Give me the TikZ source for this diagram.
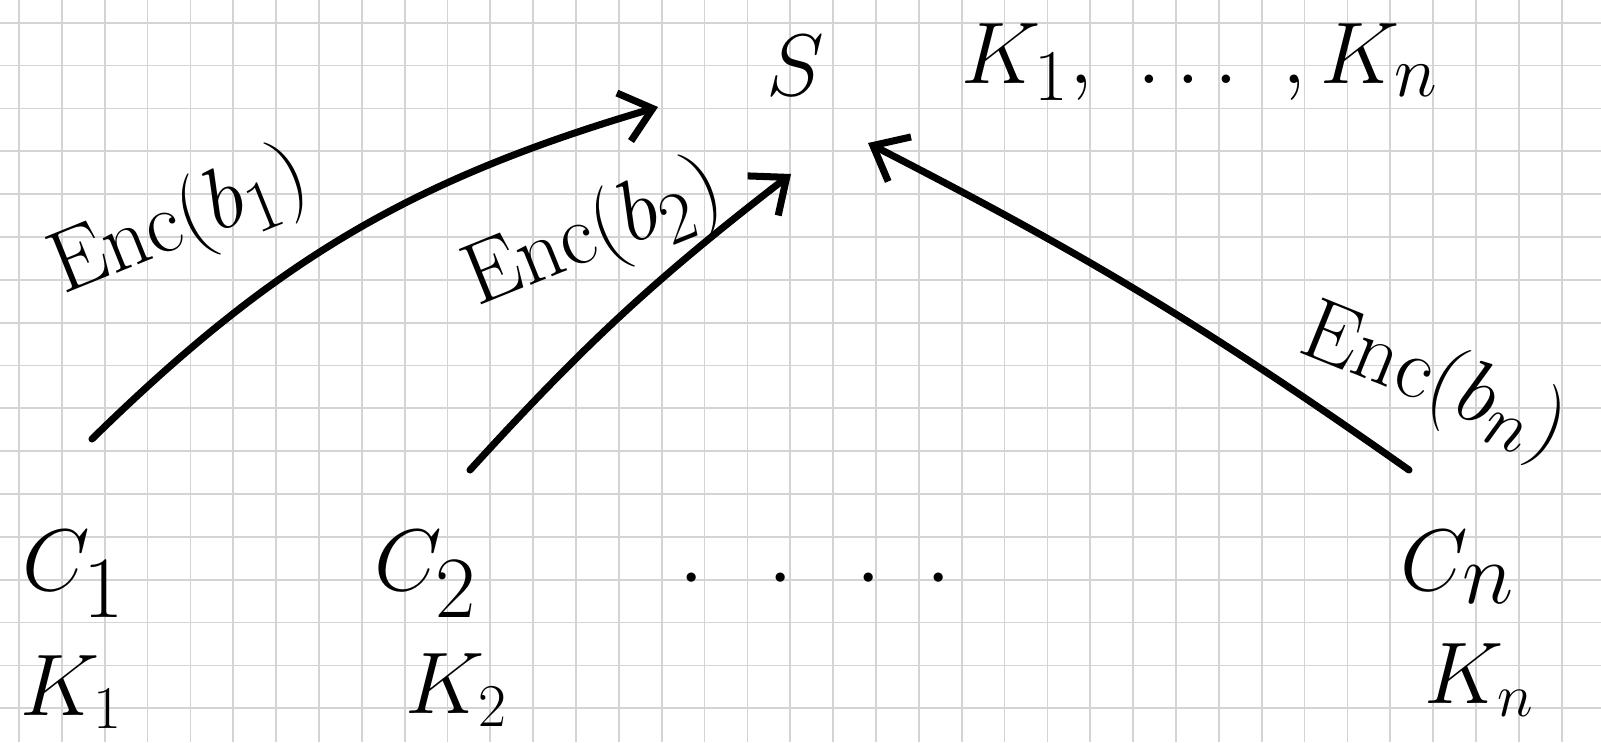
\documentclass[tikz,border=0pt]{standalone}
\usepackage{amsmath}
\usetikzlibrary{arrows.meta,positioning}
\definecolor{gridgray}{RGB}{212,212,212}

\begin{document}
\begin{tikzpicture}[x=0.01cm,y=-0.01cm,
        gridline/.style={draw=gridgray,line width=0.5pt},
        party/.style={font=\fontsize{36}{40}\selectfont,inner sep=0pt},
        keylbl/.style={font=\fontsize{24}{28}\selectfont,inner sep=0pt},
        enc/.style={font=\fontsize{30}{34}\selectfont,inner sep=0pt},
        a/.style={-{Straight Barb[length=3mm,width=5mm]},line width=2pt,line cap=round}
      ]
        \useasboundingbox[fill=white] (0,0) rectangle (1601,742);
        % squared paper
        \foreach \i in {0,...,36}
          \draw[gridline] ({19+42.85*\i},0) -- ({19+42.85*\i},742);
        \foreach \j in {0,...,16}
          \draw[gridline] (0,{22.7+42.85*\j}) -- (1601,{22.7+42.85*\j});

        \node[party] (s) at (795,66) {$S$};
        \node[keylbl,font=\fontsize{28}{32}\selectfont] (kall) at (1200,62) {$K_1,\ \ldots\ ,K_n$};

        \node[party] (c1) at (74,574) {$C_1$};
        \node[party] (c2) at (426,574) {$C_2$};
        \node[party] (cn) at (1458,567) {$C_n$};
        \node[party,font=\fontsize{26}{30}\selectfont] (dots) at (815,580)
          {$\cdot\hspace{0.45cm}\cdot\hspace{0.45cm}\cdot\hspace{0.45cm}\cdot$};

        \node[keylbl] (k1) at (72,692) {$K_1$};
        \node[keylbl] (k2) at (457,690) {$K_2$};
        \node[keylbl] (kn) at (1480,680) {$K_n$};

        \coordinate (c1out) at (92,439);
        \coordinate (c2out) at (470,470);
        \coordinate (cnout) at (1409,470);
        \coordinate (sin1) at (658,107);
        \coordinate (sin2) at (791,174);
        \coordinate (sinn) at (868,143);

        \draw[a] (c1out) to[bend left=14] (sin1);
        \draw[a] (c2out) to[bend left=5] (sin2);
        \draw[a] (cnout) to[bend right=4] (sinn);

        \node[enc,font=\fontsize{32}{36}\selectfont,rotate=22] (e1) at (180,224) {$\mathrm{Enc}(b_1)$};
        \node[enc,font=\fontsize{28}{32}\selectfont,rotate=22] (e2) at (594,236) {$\mathrm{Enc}(b_2)$};
        \node[enc,rotate=-22] (en) at (1434,383) {$\mathrm{Enc}(b_n)$};
      \end{tikzpicture}
\end{document}
